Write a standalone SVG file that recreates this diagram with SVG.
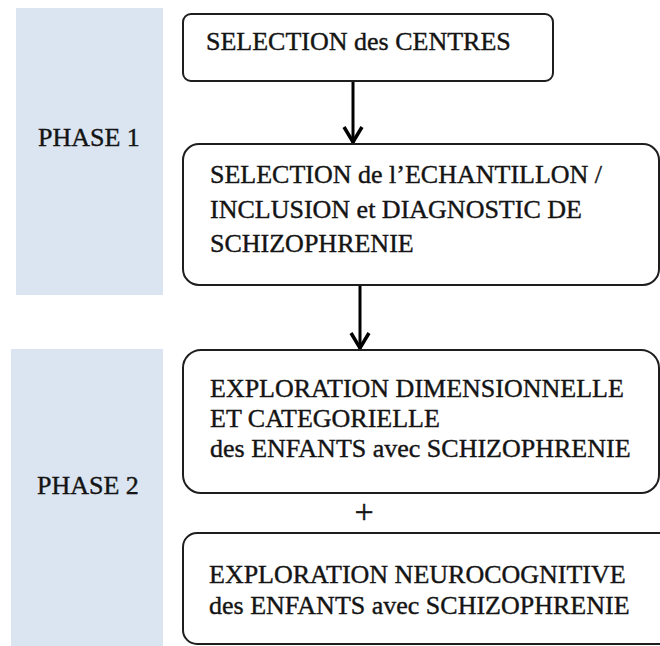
<svg xmlns="http://www.w3.org/2000/svg" width="660" height="646" viewBox="0 0 660 646">
  <defs>
    <style>
      .panel { fill: #dbe5f1; }
      .box { fill: #ffffff; stroke: #1e1e1e; stroke-width: 2; }
      .t { font-family: "Liberation Serif", "Times New Roman", serif; font-size: 26px; fill: #141414; stroke: #141414; stroke-width: 0.4; }
      .conn { stroke: #000; stroke-width: 3; fill: none; }
    </style>
    <marker id="arrow" viewBox="0 0 20 22" refX="18" refY="11" markerWidth="20" markerHeight="22" markerUnits="userSpaceOnUse" orient="auto">
      <path d="M2,2 L17,11 L2,20" fill="none" stroke="#000" stroke-width="3.5" stroke-linejoin="miter"/>
    </marker>
  </defs>

  <rect width="660" height="646" fill="#ffffff"/>

  <g id="phase1">
    <rect class="panel" x="16" y="8" width="147" height="287"/>
    <text class="t" x="38" y="146">PHASE 1</text>
  </g>
  <g id="phase2">
    <rect class="panel" x="11" y="349" width="152" height="297"/>
    <text class="t" x="37" y="494">PHASE 2</text>
  </g>

  <g id="connectors">
    <line class="conn" x1="353" y1="81" x2="353" y2="143" marker-end="url(#arrow)"/>
    <line class="conn" x1="360" y1="285" x2="360" y2="349" marker-end="url(#arrow)"/>
  </g>

  <g id="selection-centres">
    <rect class="box" x="183" y="14" width="370" height="67" rx="8"/>
    <text class="t" x="206" y="50">SELECTION des CENTRES</text>
  </g>

  <g id="selection-echantillon">
    <rect class="box" x="183" y="144" width="476" height="141" rx="16"/>
    <text class="t" x="210" y="183">SELECTION de l’ECHANTILLON /</text>
    <text class="t" x="210" y="218">INCLUSION et DIAGNOSTIC DE</text>
    <text class="t" x="210" y="252">SCHIZOPHRENIE</text>
  </g>

  <g id="exploration-dimensionnelle">
    <rect class="box" x="183" y="350" width="476" height="143" rx="18"/>
    <text class="t" x="210" y="397">EXPLORATION DIMENSIONNELLE</text>
    <text class="t" x="210" y="427">ET CATEGORIELLE</text>
    <text class="t" x="210" y="457">des ENFANTS avec SCHIZOPHRENIE</text>
  </g>

  <g id="plus">
    <text class="t" x="364" y="523" text-anchor="middle" style="font-size:34px">+</text>
  </g>

  <g id="exploration-neurocognitive">
    <rect class="box" x="183" y="533" width="500" height="111" rx="14"/>
    <text class="t" x="209" y="583">EXPLORATION NEUROCOGNITIVE</text>
    <text class="t" x="209" y="614">des ENFANTS avec SCHIZOPHRENIE</text>
  </g>
</svg>
